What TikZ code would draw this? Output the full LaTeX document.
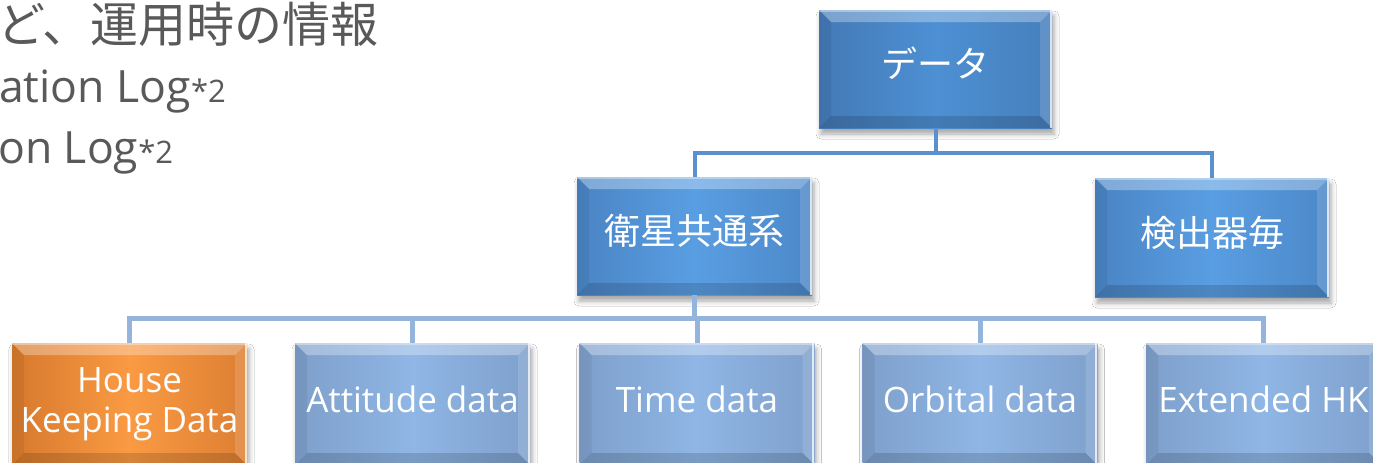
\documentclass[tikz,border=0pt]{standalone}
\usepackage{fontspec}
\setmainfont{Open Sans}
\newfontfamily\jp{Noto Sans CJK JP}
\usetikzlibrary{shadows.blur}
\definecolor{txtgray}{HTML}{595959}
\definecolor{linkdark}{HTML}{5B90CF}
\definecolor{linklight}{HTML}{95B4DC}
\definecolor{topL}{HTML}{4479B6}
\definecolor{topR}{HTML}{467FBD}
\definecolor{topM}{HTML}{4D90D3}
\definecolor{midL}{HTML}{4A84C4}
\definecolor{midR}{HTML}{4C88C8}
\definecolor{midM}{HTML}{599EE2}
\definecolor{leafL}{HTML}{7E9FCA}
\definecolor{leafR}{HTML}{7FA0CC}
\definecolor{leafM}{HTML}{8FB6E5}
\definecolor{hkL}{HTML}{D7792D}
\definecolor{hkR}{HTML}{DD7F33}
\definecolor{hkM}{HTML}{FA9A43}
\begin{document}
\begin{tikzpicture}[x=1pt,y=-1pt,
  card/.style={rectangle, minimum width=235pt, minimum height=118pt,
    inner sep=0pt, outer sep=0pt, text=white,
    font=\jp\fontsize{36}{40}\selectfont, text height=26pt, text depth=9pt,
    blur shadow={shadow xshift=2pt, shadow yshift=-6pt,
      shadow blur radius=5pt, shadow opacity=35},
    path picture={
      \path (path picture bounding box.north west) coordinate (bnw)
            (path picture bounding box.north east) coordinate (bne)
            (path picture bounding box.south west) coordinate (bsw)
            (path picture bounding box.south east) coordinate (bse);
      % bevelled rim: light top, dark bottom, shaded sides
      \fill[white,opacity=.30] (bnw) -- (bne) -- ([shift={(-12pt,-12pt)}]bne)
        -- ([shift={(12pt,-12pt)}]bnw) -- cycle;
      \fill[black,opacity=.06] (bnw) -- ([shift={(12pt,-12pt)}]bnw)
        -- ([shift={(12pt,12pt)}]bsw) -- (bsw) -- cycle;
      \fill[white,opacity=.14] (bne) -- ([shift={(-12pt,-12pt)}]bne)
        -- ([shift={(-12pt,12pt)}]bse) -- (bse) -- cycle;
      \fill[black,opacity=.14] (bsw) -- ([shift={(12pt,12pt)}]bsw)
        -- ([shift={(-12pt,12pt)}]bse) -- (bse) -- cycle;
      \draw[white,opacity=.75,line width=2pt] ([xshift=-1.5pt]bne) -- ([xshift=-1.5pt]bse);
      \draw[white,opacity=.35,line width=1.5pt] ([yshift=-1pt]bnw) -- ([yshift=-1pt]bne);
    }},
  topcard/.style={card, left color=topL, right color=topR, middle color=topM},
  midcard/.style={card, left color=midL, right color=midR, middle color=midM},
  leafcard/.style={card, left color=leafL, right color=leafR, middle color=leafM,
    minimum height=122pt, font=\fontsize{35}{40}\selectfont},
  hkcard/.style={card, left color=hkL, right color=hkR, middle color=hkM,
    minimum height=122pt, font=\fontsize{35}{40}\selectfont},
  link1/.style={draw=linkdark, line width=4pt},
  link2/.style={draw=linklight, line width=5pt},
  note/.style={anchor=base west, inner sep=0pt, text=txtgray}
]
\useasboundingbox (0,0) rectangle (1373,463);
\fill[white] (0,0) rectangle (1373,463);

% notes at the upper left
\node[note, font=\jp\fontsize{48}{48}\selectfont] (n1) at (-3,42) {ど、運用時の情報};
\node[note, font=\fontsize{44.5}{44.5}\selectfont] (n2) at (-1,102)
  {ation Log{\fontsize{31}{31}\selectfont*2}};
\node[note, font=\fontsize{44.5}{44.5}\selectfont] (n3) at (-2,163)
  {on Log{\fontsize{31}{31}\selectfont*2}};

% hierarchy
\node[topcard, minimum width=233pt] (data) at (935.5,69) {データ};
\node[midcard] (sat) at (694.5,236) {衛星共通系};
\node[midcard, minimum width=234pt, minimum height=119pt] (det) at (1212,237.5) {検出器毎};

\node[hkcard, align=center, text height={}, text depth={}] (hk) at (129.5,404) {House\\Keeping Data};
\node[leafcard] (att) at (412.5,404) {Attitude data};
\node[leafcard] (time) at (697,404) {Time data};
\node[leafcard] (orb) at (980,404) {Orbital data};
\node[leafcard] (ext) at (1263.5,404) {Extended HK};

% connectors
\draw[link1] (data.south) -- ++(0,25) -| (sat.north);
\draw[link1] (data.south) -- ++(0,25) -| (det.north);
\foreach \leaf in {hk,att,time,orb,ext}
  \draw[link2] (sat.south) -- ++(0,23) -| (\leaf.north);
\end{tikzpicture}
\end{document}
